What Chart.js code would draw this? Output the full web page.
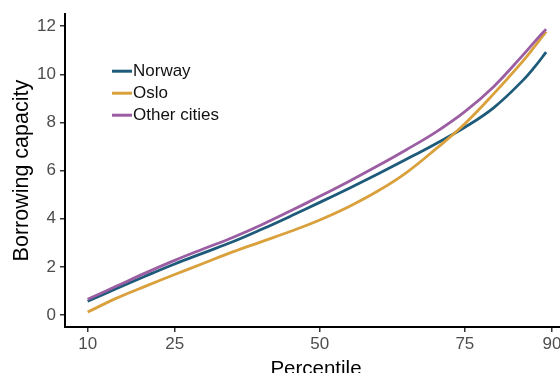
<!DOCTYPE html>
<html>
<head>
<meta charset="utf-8">
<script src="https://cdn.jsdelivr.net/npm/chart.js@4/dist/chart.umd.min.js"></script>
<style>
  html, body { margin: 0; padding: 0; background: #fff; }
  #wrap { position: relative; width: 560px; height: 373px; overflow: hidden; background: #fff; }
  canvas { display: block; }
</style>
</head>
<body>
<div id="wrap"><canvas id="c" width="580" height="390" style="width:580px;height:390px"></canvas></div>
<script>
// ---- data ----
const percentiles = [10, 15, 20, 25, 30, 35, 40, 45, 50, 55, 60, 65, 70, 75, 80, 85, 87, 89];
const norway      = [0.57, 1.10, 1.62, 2.12, 2.58, 3.04, 3.56, 4.11, 4.68, 5.26, 5.86, 6.48, 7.12, 7.80, 8.62, 9.75, 10.30, 10.92];
const oslo        = [0.12, 0.70, 1.20, 1.68, 2.15, 2.62, 3.05, 3.48, 3.95, 4.50, 5.15, 5.93, 6.90, 7.95, 9.20, 10.55, 11.15, 11.78];
const otherCities = [0.65, 1.20, 1.75, 2.27, 2.75, 3.22, 3.75, 4.33, 4.93, 5.55, 6.20, 6.88, 7.60, 8.45, 9.50, 10.80, 11.35, 11.88];
const seriesNames = ['Norway', 'Oslo', 'Other cities'];
const xTicks = [10, 25, 50, 75, 90];
const yTicks = [0, 2, 4, 6, 8, 10, 12];

const colors = ['#1e5b7b', '#d9a03b', '#9b5ea2'];
const FONT = '"Liberation Sans", Arial, Helvetica, sans-serif';

function toPoints(arr) { return percentiles.map((p, i) => ({ x: p, y: arr[i] })); }
const seriesValues = [norway, oslo, otherCities];

const datasets = seriesValues.map((vals, i) => ({
  label: seriesNames[i],
  data: toPoints(vals),
  borderColor: colors[i],
  backgroundColor: colors[i],
  borderWidth: 2.8,
  pointRadius: 0,
  fill: false,
  tension: 0.4,
  order: 3 - i
}));

const legendPlugin = {
  id: 'insetLegend',
  afterDraw(chart) {
    const ctx = chart.ctx;
    const area = chart.chartArea;
    const x0 = area.left + 47, y0 = area.top + 57, step = 22;
    ctx.save();
    ctx.font = '17px ' + FONT;
    ctx.textBaseline = 'middle';
    ctx.textAlign = 'left';
    chart.data.datasets.forEach((ds, i) => {
      const y = y0 + i * step;
      ctx.strokeStyle = ds.borderColor;
      ctx.lineWidth = 3;
      ctx.beginPath();
      ctx.moveTo(x0, y);
      ctx.lineTo(x0 + 20, y);
      ctx.stroke();
      ctx.fillStyle = '#111';
      ctx.fillText(ds.label, x0 + 21, y);
    });
    ctx.restore();
  }
};

new Chart(document.getElementById('c'), {
  type: 'line',
  data: { datasets },
  options: {
    responsive: false,
    animation: false,
    devicePixelRatio: 1,
    layout: { padding: { top: 13, right: 13, left: 0, bottom: 0 } },
    plugins: { legend: { display: false }, tooltip: { enabled: false } },
    scales: {
      x: {
        type: 'linear',
        min: 6.1,
        max: 92.6,
        afterBuildTicks: s => { s.ticks = xTicks.map(v => ({ value: v })); },
        afterFit: s => { s.height = 63; },
        border: { display: true, color: '#000', width: 2 },
        grid: { display: true, drawOnChartArea: false, drawTicks: true, tickLength: 5, color: '#333', lineWidth: 1.5 },
        ticks: { color: '#4d4d4d', font: { family: FONT, size: 17 }, padding: 2, maxRotation: 0, autoSkip: false },
        title: { display: true, text: 'Percentile', color: '#000', font: { family: FONT, size: 20.5 }, padding: { top: 2, bottom: 8 } }
      },
      y: {
        type: 'linear',
        min: -0.5,
        max: 12.5,
        afterBuildTicks: s => { s.ticks = yTicks.map(v => ({ value: v })); },
        afterFit: s => { s.width = 65; },
        border: { display: true, color: '#000', width: 2 },
        grid: { display: true, drawOnChartArea: false, drawTicks: true, tickLength: 5, color: '#333', lineWidth: 1.5 },
        ticks: { color: '#4d4d4d', font: { family: FONT, size: 17 }, padding: 4, autoSkip: false },
        title: { display: true, text: 'Borrowing capacity', color: '#000', font: { family: FONT, size: 21.5 }, padding: { top: 9, bottom: 4 } }
      }
    }
  },
  plugins: [legendPlugin]
});
</script>
</body>
</html>
